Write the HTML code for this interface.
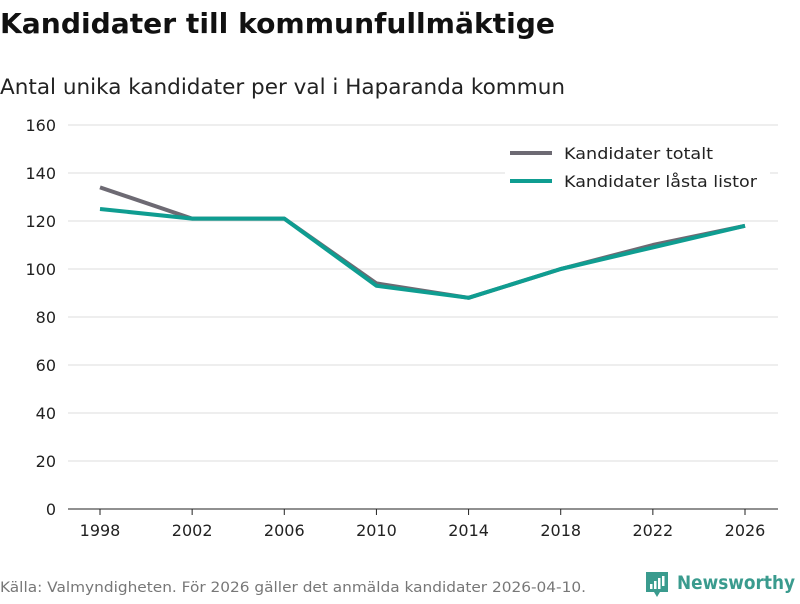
<!DOCTYPE html>
<html><head><meta charset="utf-8"><style>
body{margin:0;background:#fff;font-family:"DejaVu Sans","Liberation Sans",sans-serif;}
svg text{font-family:"DejaVu Sans","Liberation Sans",sans-serif;}
</style></head><body>
<svg id="c" width="800" height="600" xmlns="http://www.w3.org/2000/svg">
<text x="0" y="33" font-size="28" font-weight="bold" fill="#111" textLength="555" lengthAdjust="spacingAndGlyphs">Kandidater till kommunfullmäktige</text>
<text x="0" y="94" font-size="21" fill="#222" textLength="565" lengthAdjust="spacingAndGlyphs">Antal unika kandidater per val i Haparanda kommun</text>
<g id="grid"></g><g id="xaxis"></g><g id="lines"></g>
<g>
<rect x="505" y="142" width="265" height="56" fill="#fff"/>
<line x1="510" y1="153" x2="552" y2="153" stroke="#6d6a73" stroke-width="4"/>
<text x="564" y="159" font-size="16" fill="#222" textLength="149" lengthAdjust="spacingAndGlyphs">Kandidater totalt</text>
<line x1="510" y1="181" x2="552" y2="181" stroke="#0f9d91" stroke-width="4"/>
<text x="564" y="187" font-size="16" fill="#222" textLength="193" lengthAdjust="spacingAndGlyphs">Kandidater låsta listor</text>
</g>
<text x="0" y="592" font-size="14" fill="#777" textLength="586" lengthAdjust="spacingAndGlyphs">Källa: Valmyndigheten. För 2026 gäller det anmälda kandidater 2026-04-10.</text>
<g>
<path d="M646 572 h22 v20 h-8 l-3 5 l-3 -5 h-8 z" fill="#3a9b8e"/>
<rect x="650" y="584" width="2.5" height="5" fill="#fff"/><rect x="654" y="581" width="2.5" height="8" fill="#fff"/><rect x="658" y="578" width="2.5" height="11" fill="#fff"/><rect x="662" y="576" width="2.5" height="10" fill="#fff"/>
<text x="677" y="589" font-size="19" font-weight="bold" fill="#3a9b8e" textLength="118" lengthAdjust="spacingAndGlyphs">Newsworthy</text>
</g>
</svg>
<script>
const years=[1998,2002,2006,2010,2014,2018,2022,2026];
const totalt=[134,121,121,94,88,100,110,118];
const lasta=[125,121,121,93,88,100,109,118];
const yTicks=[0,20,40,60,80,100,120,140,160];
const NS="http://www.w3.org/2000/svg";
const x=v=>100+(v-1998)*(645/28);
const y=v=>509-v*2.4;
function mk(t,a,p){const e=document.createElementNS(NS,t);for(const k in a)e.setAttribute(k,a[k]);p.appendChild(e);return e;}
const g=document.getElementById('grid');
yTicks.forEach(t=>{
 const l=mk('line',{x1:68,x2:778,y1:y(t),y2:y(t),stroke:t===0?'#222':'#ddd','stroke-width':1},g);
 
 
 const tx=mk('text',{x:56,y:y(t)+6,'font-size':16,fill:'#222','text-anchor':'end'},g);tx.textContent=t;
 
 
});
const xa=document.getElementById('xaxis');
years.forEach(v=>{
 const l=mk('line',{x1:x(v),x2:x(v),y1:509,y2:515,stroke:'#222'},xa);
 
 
 const tx=mk('text',{x:x(v),y:536,'font-size':16,fill:'#222','text-anchor':'middle'},xa);tx.textContent=v;
 
 
});
const lg=document.getElementById('lines');
[[totalt,'#6d6a73','line-totalt'],[lasta,'#0f9d91','line-lasta']].forEach(([d,c,n])=>{
 const p=mk('polyline',{points:d.map((v,i)=>x(years[i])+','+y(v)).join(' '),fill:'none',stroke:c,'stroke-width':4,'stroke-linejoin':'round'},lg);
 
 
});
</script>
</body></html>
